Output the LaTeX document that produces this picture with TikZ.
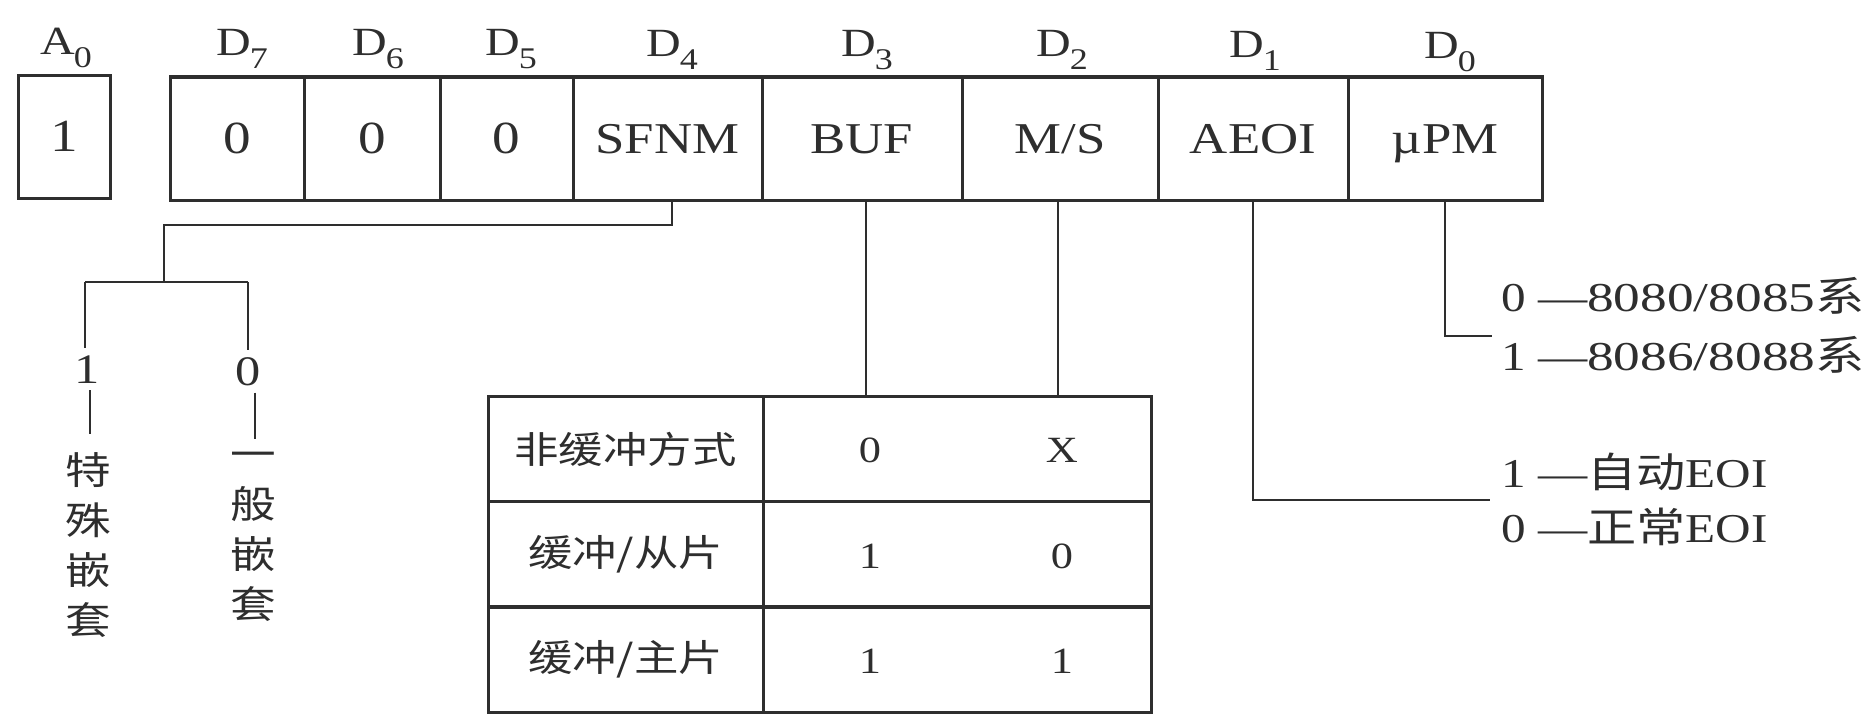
\documentclass[tikz,border=0pt]{standalone}
\usepackage{fontspec}
\setmainfont{Liberation Serif}[FakeStretch=1.2]
\newfontfamily\widefont{Liberation Serif}[FakeStretch=1.3]
\newfontfamily\cjk{Noto Sans CJK SC}[FakeStretch=1.2]
\definecolor{ink}{HTML}{2E2E2E}
\newcommand{\fs}[1]{\fontsize{#1}{#1}\selectfont}
\newcommand{\lsub}[1]{\kern-1pt\raisebox{-13pt}{\fs{30}#1}}
\begin{document}
\begin{tikzpicture}[x=1pt,y=-1pt,
  inkline/.style={draw=ink,line width=2pt},
  boxline/.style={draw=ink,line width=3pt},
  cell/.style={boxline,rectangle,inner sep=0pt,minimum height=123pt,text=ink,font=\fs{44},text height=29pt,text depth=0pt},
  lab/.style={anchor=base,inner sep=0pt,text=ink,font=\fs{40}},
  tcell/.style={boxline,rectangle,inner sep=0pt,minimum height=105pt,text=ink,font=\cjk\fs{37}},
  tval/.style={inner sep=0pt,text=ink,font=\fs{37},anchor=base},
  bit/.style={inner xsep=0pt,inner ysep=7pt,text=ink,font=\fs{42},anchor=base},
  vtext/.style={inner sep=0pt,text=ink,align=center,font=\cjk\fontsize{38}{50}\selectfont},
  note/.style={inner sep=0pt,text=ink,anchor=base west,font=\fs{41}},
]
\fill[white] (0,0) rectangle (1871,717);
\useasboundingbox (0,0) rectangle (1871,717);

% register cells
\node[cell,minimum width=92pt]  (a0) at (64,137)    {\fs{46}1};
\node[cell,minimum width=134pt] (d7) at (237,138.5) {\fs{46}0};
\node[cell,minimum width=136pt] (d6) at (372,138.5) {\fs{46}0};
\node[cell,minimum width=133pt] (d5) at (506.5,138.5) {\fs{46}0};
\node[cell,minimum width=189pt] (d4) at (667.5,138.5) {SFNM};
\node[cell,minimum width=200pt] (d3) at (862,138.5) {BUF};
\node[cell,minimum width=196pt] (d2) at (1060,138.5) {M/S};
\node[cell,minimum width=190pt] (d1) at (1253,138.5) {AEOI};
\node[cell,minimum width=194pt] (d0) at (1445,138.5) {\symbol{"00B5}PM};

% bit labels
\node[lab] (la0) at (66,55)   {A\lsub{0}};
\node[lab] (ld7) at (242,56)  {D\lsub{7}};
\node[lab] (ld6) at (378,56)  {D\lsub{6}};
\node[lab] (ld5) at (511,56)  {D\lsub{5}};
\node[lab] (ld4) at (672,57)  {D\lsub{4}};
\node[lab] (ld3) at (867,57)  {D\lsub{3}};
\node[lab] (ld2) at (1062,57) {D\lsub{2}};
\node[lab] (ld1) at (1255,58) {D\lsub{1}};
\node[lab] (ld0) at (1450,59) {D\lsub{0}};

% SFNM branch
\coordinate (sfB) at (164,225);
\coordinate (sfC) at (164,282);
\coordinate (brL) at (85,282);
\coordinate (brR) at (248,282);
\draw[inkline] ([xshift=4pt]d4.south) |- (sfB) -- (sfC);
\draw[inkline] (brL) -- (brR);
\node[bit] (b1) at (87,383) {1};
\node[bit] (b0) at (248,385) {0};
\draw[inkline] (brL) -- (brL |- b1.north);
\draw[inkline] (brR) -- (brR |- b0.north);
\draw[inkline] ([xshift=3pt]b1.south) -- ++(0,44);
\draw[inkline] ([xshift=7pt]b0.south) -- ++(0,46);
\node[vtext] (v1) at (88,545) {特\\殊\\嵌\\套};
\node[vtext] (v0) at (253,537) {一\\般\\嵌\\套};

% table
\node[tcell,minimum width=275pt] (t1l) at (625.5,449)  {非缓冲方式};
\node[tcell,minimum width=388pt] (t1v) at (957,449)    {};
\node[tcell,minimum width=275pt] (t2l) at (625.5,554)  {缓冲/从片};
\node[tcell,minimum width=388pt] (t2v) at (957,554)    {};
\node[tcell,minimum width=275pt] (t3l) at (625.5,659.5){缓冲/主片};
\node[tcell,minimum width=388pt] (t3v) at (957,659.5)  {};
\node[tval] (t1a) at (870,462)  {0};
\node[tval] (t1b) at (1062,462) {X};
\node[tval] (t2a) at (870,568)  {1};
\node[tval] (t2b) at (1062,568) {0};
\node[tval] (t3a) at (870,673)  {1};
\node[tval] (t3b) at (1062,673) {1};

% BUF and M/S connectors
\draw[inkline] ([xshift=4pt]d3.south) -- ([xshift=4pt]d3.south |- t1v.north);
\draw[inkline] ([xshift=-2pt]d2.south) -- ([xshift=-2pt]d2.south |- t1v.north);

% AEOI and uPM connectors
\coordinate (aeEnd) at (1490,500);
\coordinate (upEnd) at (1492,336);
\draw[inkline] (d1.south) |- (aeEnd);
\draw[inkline] (d0.south) |- (upEnd);

% notes
\node[note] (n1) at (1501,311) {0 —{\widefont 8080/8085}{\cjk 系}};
\node[note] (n2) at (1501,370) {1 —{\widefont 8086/8088}{\cjk 系}};
\node[note] (n3) at (1501,487) {1 —{\cjk 自动}EOI};
\node[note] (n4) at (1501,542) {0 —{\cjk 正常}EOI};
\end{tikzpicture}
\end{document}
